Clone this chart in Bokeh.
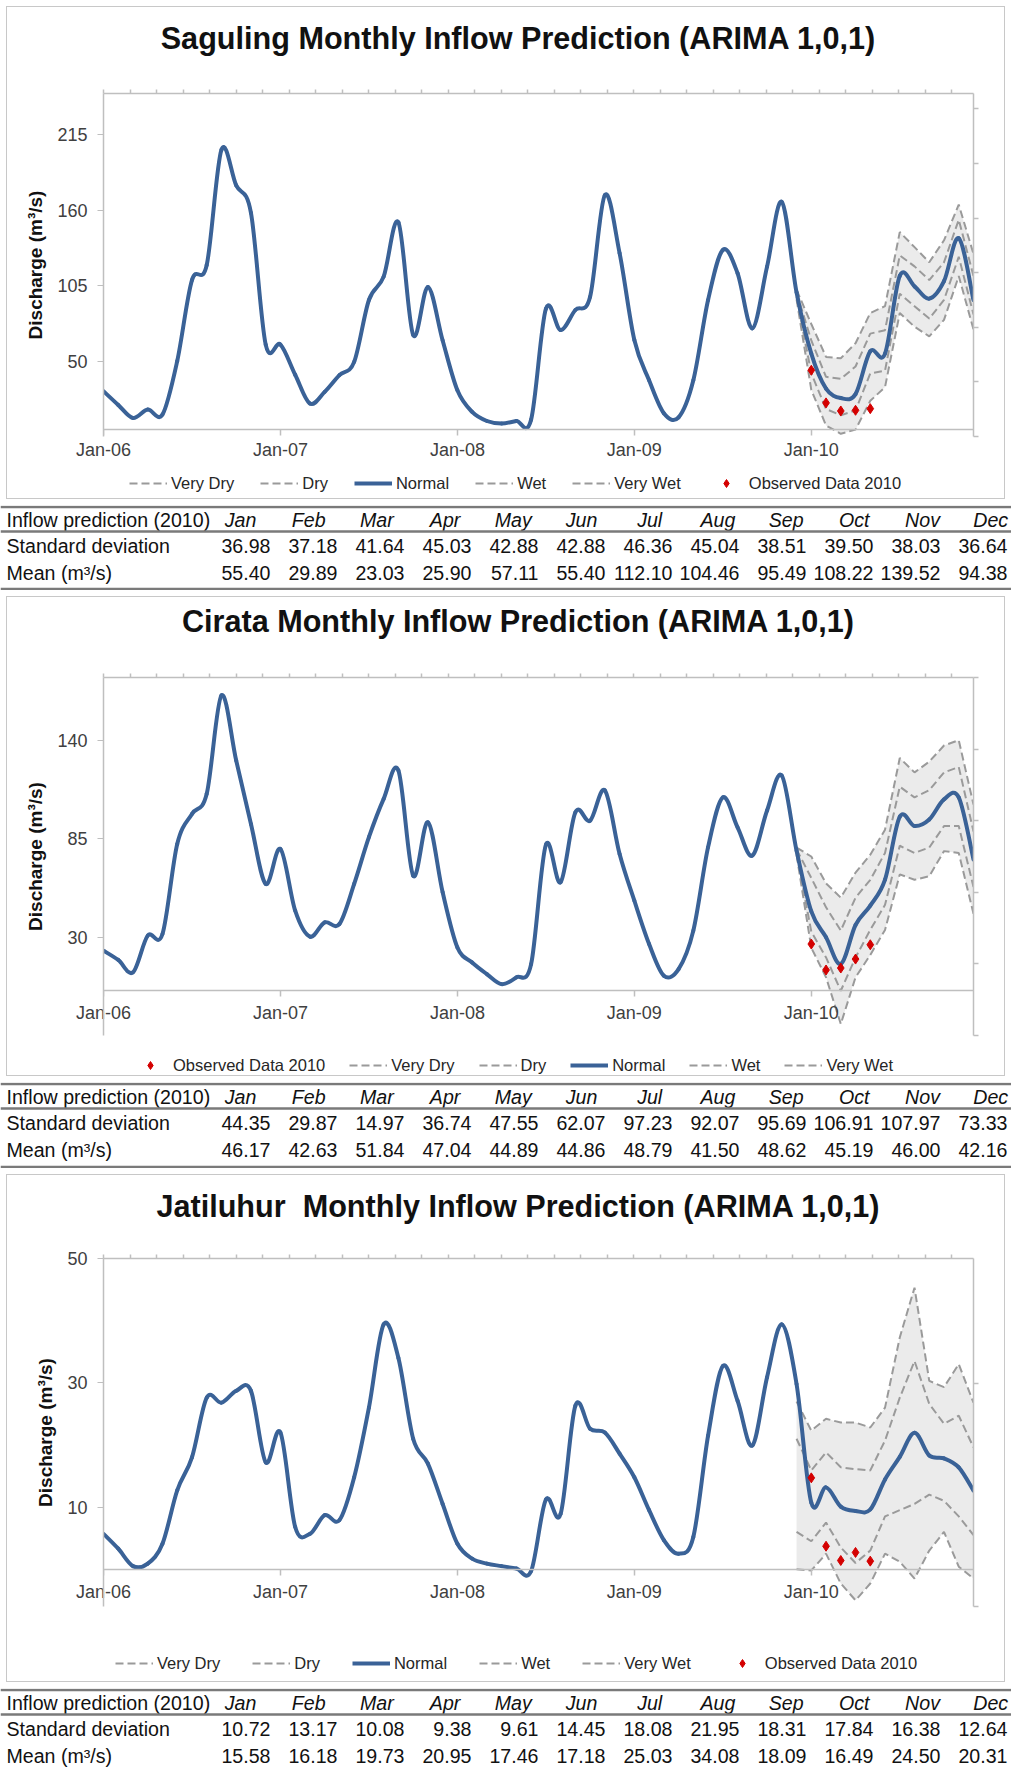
import numpy as np
from bokeh.plotting import figure
from bokeh.models import (Range1d, LinearAxis, FixedTicker, Legend,
                          LegendItem, CustomJSTickFormatter)
from bokeh.layouts import column
from bokeh.embed import file_html
from bokeh.resources import INLINE
from bokeh.core.properties import value

FONT = "Liberation Sans"
BLUE = "#3a6297"
DASH_GRAY = "#9a9a9a"
BAND_FILL = "#ebebeb"
RED = "#d40000"
AXIS_GRAY = "#bfbfbf"
TEXT_GRAY = "#404040"

# ---------------- data ----------------
year_ticks = [0, 12, 24, 36, 48]
year_tick_labels = ["Jan-06", "Jan-07", "Jan-08", "Jan-09", "Jan-10"]
table_months = ["Jan", "Feb", "Mar", "Apr", "May", "Jun",
                "Jul", "Aug", "Sep", "Oct", "Nov", "Dec"]
row_labels = ["Inflow prediction (2010)", "Standard deviation", "Mean (m\u00b3/s)"]

# Saguling: monthly inflow Jan-06 .. Dec-09
sag_hist = [28, 18, 8.5, 14.6, 11, 50, 109, 120, 204, 178, 158, 62,
            62, 40, 19, 27.5, 39.7, 49.4, 94.5, 111.5, 151, 69, 104, 65,
            28.7, 12.9, 6.3, 4.4, 6.3, 7.3, 88, 72.6, 87.2, 96.9, 171, 128.6,
            65.3, 36, 12, 9, 36, 94.5, 131, 114, 73.8, 118.8, 166, 100]
sag_normal = [55.40, 29.89, 23.03, 25.90, 57.11, 55.40, 112.10, 104.46, 95.49, 108.22, 139.52, 94.38]
# scenario lines Dec-09 .. Dec-10
sag_very_wet = [102, 77, 53, 52, 63, 85, 90, 144, 133, 122, 138, 164, 128]
sag_wet = [100, 65, 38.5, 37, 46, 70, 72.5, 127, 119, 109, 122, 153, 112]
sag_dry = [97, 41, 15, 10.5, 14, 41, 43, 99, 90, 81, 94.5, 126, 84]
sag_very_dry = [95, 29, 3, -3, 0, 21, 31, 85, 75, 68, 80, 112, 73]
sag_observed = [43.3, 19.5, 13.6, 14.1, 15.3]
sag_std_row = [36.98, 37.18, 41.64, 45.03, 42.88, 42.88, 46.36, 45.04, 38.51, 39.50, 38.03, 36.64]
sag_mean_row = [55.40, 29.89, 23.03, 25.90, 57.11, 55.40, 112.10, 104.46, 95.49, 108.22, 139.52, 94.38]

# Cirata
cir_hist = [22.4, 17.2, 10.3, 30.8, 31.7, 82, 98.8, 110, 165, 128.6, 93.2, 59.7,
            79.2, 44.7, 30.2, 38.2, 37.3, 59.7, 85.8, 107.2, 123, 64.3, 94.1, 55,
            24.2, 15.8, 9.3, 3.7, 7.5, 14.9, 81.5, 60.6, 99.7, 95, 111.9, 76.4,
            50.3, 26.1, 8.4, 12.1, 33.6, 80.2, 108, 91.3, 75.5, 100.7, 120.2, 78.3]
cir_normal = [44.35, 29.87, 14.97, 36.74, 47.55, 62.07, 97.23, 92.07, 95.69, 106.91, 107.97, 73.33]
cir_very_wet = [80, 75, 60, 52, 66, 76, 90, 130, 122, 128, 137, 140, 104]
cir_wet = [79, 63, 46.6, 33.6, 52, 62, 77, 114, 108, 112, 122, 125, 89]
cir_dry = [77, 33, 18.6, 0, 18.6, 34, 48, 81, 77, 80, 92, 92, 58]
cir_very_dry = [76, 24, 7.5, -18.6, 7.5, 20, 34, 65, 62, 64, 78, 77, 43]
cir_observed = [26.1, 11.6, 12.7, 17.7, 25.7]
cir_std_row = [44.35, 29.87, 14.97, 36.74, 47.55, 62.07, 97.23, 92.07, 95.69, 106.91, 107.97, 73.33]
cir_mean_row = [46.17, 42.63, 51.84, 47.04, 44.89, 44.86, 48.79, 41.50, 48.62, 45.19, 46.00, 42.16]

# Jatiluhur
jat_hist = [5.7, 3.3, 0.5, 0.9, 4.1, 12.7, 18, 27.6, 26.8, 28.7, 28.7, 17.2,
            22, 6.8, 5.7, 8.7, 7.9, 14.8, 26, 39.4, 34, 21, 17, 10.5,
            4.1, 1.7, 0.9, 0.5, 0.1, -0.3, 11.2, 8.9, 26.3, 22.6, 22, 18.6,
            14.8, 9.5, 4.7, 2.5, 5.2, 21.5, 32.7, 27.1, 19.9, 30.9, 39.4, 29.8]
jat_normal = [10.72, 13.17, 10.08, 9.38, 9.61, 14.45, 18.08, 21.95, 18.31, 17.84, 16.38, 12.64]
jat_very_wet = [27, 22.3, 24.2, 23.6, 23.6, 22.8, 26, 37.3, 45.3, 30.3, 29.3, 33, 26.8]
jat_wet = [21, 15.9, 18.8, 16.4, 16.1, 15.9, 20.7, 27.6, 33.5, 26.6, 23.4, 24.7, 19.6]
jat_dry = [6, 4.5, 7.5, 3.5, 1, 3, 8.5, 9.5, 10.5, 12, 11, 8.5, 5.5]
jat_very_dry = [0, -0.2, 2.5, -2.3, -5, -2.3, 2.5, 1.2, -1.5, 3, 6, 0.4, -1.5]
jat_observed = [14.7, 3.7, 1.4, 2.7, 1.3]
jat_std_row = [10.72, 13.17, 10.08, 9.38, 9.61, 14.45, 18.08, 21.95, 18.31, 17.84, 16.38, 12.64]
jat_mean_row = [15.58, 16.18, 19.73, 20.95, 17.46, 17.18, 25.03, 34.08, 18.09, 16.49, 24.50, 20.31]

ORDER_A = ["Very Dry", "Dry", "Normal", "Wet", "Very Wet", "Observed Data 2010"]
ORDER_B = ["Observed Data 2010", "Very Dry", "Dry", "Normal", "Wet", "Very Wet"]

W = 1011
FRAME_LEFT = 103
FRAME_RIGHT_PAD = 38


def blank_fig(height):
    f = figure(width=W, height=height, output_backend="svg", toolbar_location=None,
               x_range=Range1d(0, W), y_range=Range1d(height, 0), min_border=0,
               min_border_left=0, min_border_right=0, min_border_top=0, min_border_bottom=0,
               x_axis_location=None, y_axis_location=None, frame_align=False)
    f.grid.visible = False
    f.outline_line_color = None
    f.background_fill_alpha = 0
    f.border_fill_alpha = 0
    return f


def empty_formatter():
    return CustomJSTickFormatter(code="return ''")


def plain_axis(ax, tick_out, tick_in=0):
    ax.axis_line_color = AXIS_GRAY
    ax.axis_line_width = 1.5
    ax.major_tick_line_color = AXIS_GRAY
    ax.major_tick_line_width = 1.5
    ax.major_tick_out = tick_out
    ax.major_tick_in = tick_in
    ax.minor_tick_line_color = None
    ax.major_label_standoff = 0
    ax.major_label_text_font_size = "8px"


def smooth_segments(xs, ys):
    """Bezier control points (Catmull-Rom style) for a smoothed line through the data."""
    xs = np.asarray(xs, float)
    ys = np.asarray(ys, float)
    n = len(xs)
    idx = np.arange(n - 1)
    im1 = np.maximum(idx - 1, 0)
    ip2 = np.minimum(idx + 2, n - 1)
    return dict(x0=xs[idx], y0=ys[idx], x1=xs[idx + 1], y1=ys[idx + 1],
                cx0=xs[idx] + (xs[idx + 1] - xs[im1]) / 6.0,
                cy0=ys[idx] + (ys[idx + 1] - ys[im1]) / 6.0,
                cx1=xs[idx + 1] - (xs[ip2] - xs[idx]) / 6.0,
                cy1=ys[idx + 1] - (ys[ip2] - ys[idx]) / 6.0)


def make_title(text, height, cy):
    f = blank_fig(height)
    f.text(x=[518], y=[cy], text=[text], text_font=value(FONT), text_font_style="bold",
           text_font_size="30.6px", text_color="#111111", text_align="center",
           text_baseline="middle")
    return f


def make_chart(hist, normal, vw, w, d, vd, obs, cfg):
    H = cfg["height"]
    p = figure(width=W, height=H, output_backend="svg", toolbar_location=None,
               x_range=Range1d(0, 59), y_range=Range1d(*cfg["yrange"]),
               min_border_left=FRAME_LEFT, min_border_right=FRAME_RIGHT_PAD,
               min_border_top=cfg["mbt"], min_border_bottom=cfg["mbb"], frame_align=False)
    p.grid.visible = False
    p.outline_line_color = None
    p.border_fill_alpha = 0

    months_all = list(range(len(hist) + len(normal)))
    series = list(hist) + list(normal)
    band_x = list(range(len(hist) - 1, len(hist) - 1 + len(vw)))
    month_obs = list(range(len(hist), len(hist) + len(obs)))

    p.varea(x=band_x, y1=vd, y2=vw, fill_color=BAND_FILL, fill_alpha=1.0)
    for s in (vd, d, w, vw):
        p.line(band_x, s, line_color=DASH_GRAY, line_width=2, line_dash="8 4")
    p.bezier(**smooth_segments(months_all, series), line_color=BLUE, line_width=4,
             line_cap="round")
    p.scatter(month_obs, obs, marker="diamond", size=10, color=RED)

    # labels of the time axis
    xa = p.xaxis[0]
    xa.ticker = FixedTicker(ticks=year_ticks)
    xa.major_label_overrides = {t: s for t, s in zip(year_ticks, year_tick_labels)}
    xa.axis_line_color = None
    xa.major_tick_line_color = None
    xa.major_tick_out = 0
    xa.major_tick_in = 0
    xa.minor_tick_line_color = None
    xa.major_label_standoff = cfg["xlab_standoff"]
    xa.major_label_text_font = FONT
    xa.major_label_text_font_size = "18px"
    xa.major_label_text_color = TEXT_GRAY

    # horizontal axis line crossing at zero, with year ticks pointing down
    zero_axis = LinearAxis(fixed_location=0, ticker=FixedTicker(ticks=year_ticks),
                           formatter=empty_formatter())
    plain_axis(zero_axis, tick_out=0, tick_in=6)

    ya = p.yaxis[0]
    ya.ticker = FixedTicker(ticks=cfg["yticks"])
    ya.axis_line_color = AXIS_GRAY
    ya.axis_line_width = 1.5
    ya.major_tick_line_color = AXIS_GRAY
    ya.major_tick_out = 6
    ya.major_tick_in = 0
    ya.minor_tick_line_color = None
    ya.major_label_standoff = 10
    ya.major_label_text_font = FONT
    ya.major_label_text_font_size = "18px"
    ya.major_label_text_color = TEXT_GRAY
    ya.axis_label = "Discharge (m\u00b3/s)"
    ya.axis_label_text_font = FONT
    ya.axis_label_text_font_style = "bold"
    ya.axis_label_text_font_size = "19px"
    ya.axis_label_text_color = "#111111"
    ya.axis_label_standoff = 8

    # secondary (top / right) axes of the original chart
    p.extra_x_ranges = {"top": Range1d(0, cfg["top_span"])}
    p.extra_y_ranges = {"right": Range1d(0, cfg["right_span"])}
    top = LinearAxis(x_range_name="top", ticker=FixedTicker(ticks=list(range(int(cfg["top_span"]) + 1))),
                     formatter=empty_formatter())
    right = LinearAxis(y_range_name="right", ticker=FixedTicker(ticks=list(range(int(cfg["right_span"]) + 1))),
                       formatter=empty_formatter())
    plain_axis(top, tick_out=4)
    plain_axis(right, tick_out=5)
    p.add_layout(top, "above")
    p.add_layout(zero_axis, "above")
    p.add_layout(right, "right")
    return p


def make_legend(height, cy, x0, spacing, order):
    f = blank_fig(height)
    nan = [np.nan]
    r = {}
    r["Very Dry"] = f.line(nan, nan, line_color=DASH_GRAY, line_width=2, line_dash="8 4")
    r["Dry"] = f.line(nan, nan, line_color=DASH_GRAY, line_width=2, line_dash="8 4")
    r["Normal"] = f.line(nan, nan, line_color=BLUE, line_width=4)
    r["Wet"] = f.line(nan, nan, line_color=DASH_GRAY, line_width=2, line_dash="8 4")
    r["Very Wet"] = f.line(nan, nan, line_color=DASH_GRAY, line_width=2, line_dash="8 4")
    r["Observed Data 2010"] = f.scatter(nan, nan, marker="diamond", size=10, color=RED)
    items = [LegendItem(label=k, renderers=[r[k]], index=0) for k in order]
    legend = Legend(items=items, orientation="horizontal",
                    location=(x0, height - (cy + 10)),
                    spacing=spacing, glyph_width=38, glyph_height=20,
                    label_height=20, label_standoff=4, padding=0, margin=0,
                    border_line_color=None, background_fill_alpha=0,
                    label_text_font=FONT, label_text_font_size="16.5px",
                    label_text_color="#262626")
    f.add_layout(legend, "center")
    return f


def make_table(std_vals, mean_vals, height, bottom_line=True):
    t = blank_fig(height)
    y_head, y_std, y_mean = 14.5, 40.5, 67.5
    t.text(x=[6, 6, 6], y=[y_head, y_std, y_mean], text=row_labels,
           text_font=value(FONT), text_font_size="19.6px", text_color="#111111",
           text_align="left", text_baseline="middle")
    hx = [240 + 68.2 * k for k in range(12)]
    t.text(x=hx, y=[y_head] * 12, text=table_months, text_font=value(FONT),
           text_font_size="19.6px", text_font_style="italic", text_color="#111111",
           text_align="center", text_baseline="middle")
    vx = [270 + 67.0 * k for k in range(12)]
    t.text(x=vx, y=[y_std] * 12, text=[f"{v:.2f}" for v in std_vals], text_font=value(FONT),
           text_font_size="19.6px", text_color="#111111", text_align="right", text_baseline="middle")
    t.text(x=vx, y=[y_mean] * 12, text=[f"{v:.2f}" for v in mean_vals], text_font=value(FONT),
           text_font_size="19.6px", text_color="#111111", text_align="right", text_baseline="middle")
    ys = [1.5, 26]
    if bottom_line:
        ys.append(height - 1.5)
    t.segment(x0=[0] * len(ys), y0=ys, x1=[W] * len(ys), y1=ys, line_color="#7a7a7a", line_width=2.5)
    return t


BOX = {"outline": "1px solid #c8c8c8", "outline-offset": "-7px"}

# panel 1 (0..505)
cfg1 = dict(height=405, mbt=33, mbb=29, yrange=(-5, 245), yticks=[50, 105, 160, 215],
            top_span=32.83, right_span=6.28, xlab_standoff=3)
panel1 = column(
    make_title("Saguling Monthly Inflow Prediction (ARIMA 1,0,1)", 60, 37),
    make_chart(sag_hist, sag_normal, sag_very_wet, sag_wet, sag_dry, sag_very_dry, sag_observed, cfg1),
    make_legend(40, 18, 129, 26, ORDER_A),
    spacing=0, styles=BOX)
t1 = make_table(sag_std_row, sag_mean_row, 85)

# panel 2 (590..1082)
cfg2 = dict(height=415, mbt=37, mbb=20, yrange=(-25, 175), yticks=[30, 85, 140],
            top_span=32.83, right_span=5.0, xlab_standoff=-33)
panel2 = column(
    make_title("Cirata Monthly Inflow Prediction (ARIMA 1,0,1)", 50, 30),
    make_chart(cir_hist, cir_normal, cir_very_wet, cir_wet, cir_dry, cir_very_dry, cir_observed, cfg2),
    make_legend(27, 10, 131, 24, ORDER_B),
    spacing=0, styles=BOX)
t2 = make_table(cir_std_row, cir_mean_row, 86)

# panel 3 (1168..1688)
cfg3 = dict(height=405, mbt=33, mbb=24, yrange=(-6, 50), yticks=[10, 30, 50],
            top_span=32.83, right_span=1.56, xlab_standoff=-25)
panel3 = column(
    make_title("Jatiluhur\u00a0 Monthly Inflow Prediction (ARIMA 1,0,1)", 57, 37),
    make_chart(jat_hist, jat_normal, jat_very_wet, jat_wet, jat_dry, jat_very_dry, jat_observed, cfg3),
    make_legend(58, 33, 115, 32, ORDER_A),
    spacing=0, styles=BOX)
t3 = make_table(jat_std_row, jat_mean_row, 83, bottom_line=False)

layout = column(panel1, t1, panel2, t2, panel3, t3, spacing=0)
html = file_html(layout, INLINE)
html = html.replace("<head>", "<head><style>html,body{margin:0;padding:0;}</style>", 1)
open("out.html", "w").write(html)
